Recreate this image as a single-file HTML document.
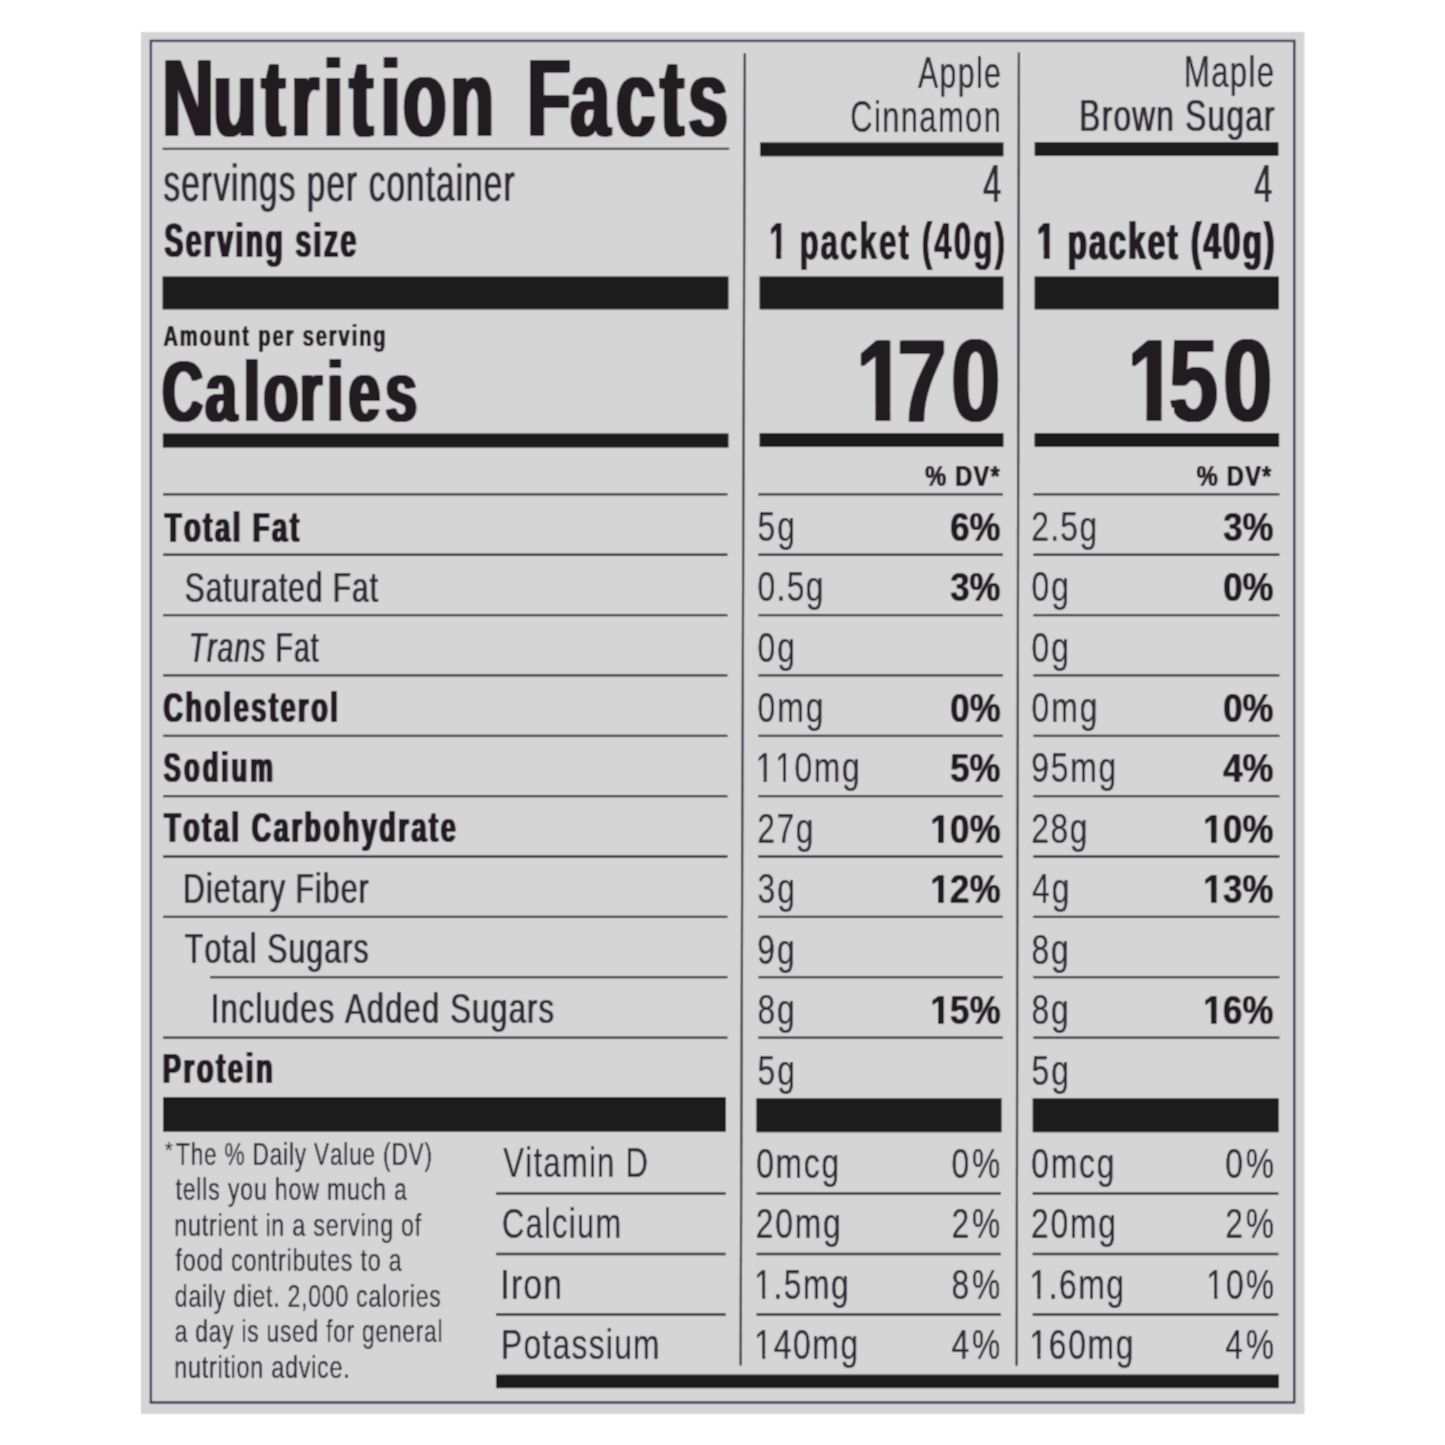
<!DOCTYPE html>
<html><head><meta charset="utf-8"><title>Nutrition Facts</title>
<style>
html,body{margin:0;padding:0;background:#ffffff;width:1445px;height:1445px;overflow:hidden}
svg{display:block}
text{font-family:"Liberation Sans",Arial,sans-serif;font-kerning:none}
.r{font-weight:400;font-style:normal}
.b{font-weight:700;font-style:normal}
.i{font-weight:400;font-style:italic}
</style></head><body>
<svg width="1445" height="1445" viewBox="0 0 1445 1445">
<defs><filter id="e0" x="-5%" y="-10%" width="115%" height="120%"><feOffset in="SourceGraphic" dx="1.240" dy="0" result="o0"/><feOffset in="SourceGraphic" dx="2.480" dy="0" result="o1"/><feOffset in="SourceGraphic" dx="3.720" dy="0" result="o2"/><feOffset in="SourceGraphic" dx="4.960" dy="0" result="o3"/><feOffset in="SourceGraphic" dx="6.200" dy="0" result="o4"/><feMerge><feMergeNode in="SourceGraphic"/><feMergeNode in="o0"/><feMergeNode in="o1"/><feMergeNode in="o2"/><feMergeNode in="o3"/><feMergeNode in="o4"/></feMerge></filter><filter id="e1" x="-5%" y="-10%" width="115%" height="120%"><feOffset in="SourceGraphic" dx="0.920" dy="0" result="o0"/><feMerge><feMergeNode in="SourceGraphic"/><feMergeNode in="o0"/></feMerge></filter><filter id="e2" x="-5%" y="-10%" width="115%" height="120%"><feOffset in="SourceGraphic" dx="1.540" dy="0" result="o0"/><feOffset in="SourceGraphic" dx="3.080" dy="0" result="o1"/><feMerge><feMergeNode in="SourceGraphic"/><feMergeNode in="o0"/><feMergeNode in="o1"/></feMerge></filter><filter id="e3" x="-5%" y="-10%" width="115%" height="120%"><feOffset in="SourceGraphic" dx="0.720" dy="0" result="o0"/><feMerge><feMergeNode in="SourceGraphic"/><feMergeNode in="o0"/></feMerge></filter><filter id="e4" x="-5%" y="-10%" width="115%" height="120%"><feOffset in="SourceGraphic" dx="0.700" dy="0" result="o0"/><feMerge><feMergeNode in="SourceGraphic"/><feMergeNode in="o0"/></feMerge></filter><filter id="e5" x="-5%" y="-10%" width="115%" height="120%"><feOffset in="SourceGraphic" dx="0.690" dy="0" result="o0"/><feMerge><feMergeNode in="SourceGraphic"/><feMergeNode in="o0"/></feMerge></filter><filter id="e6" x="-5%" y="-10%" width="115%" height="120%"><feOffset in="SourceGraphic" dx="1.000" dy="0" result="o0"/><feMerge><feMergeNode in="SourceGraphic"/><feMergeNode in="o0"/></feMerge></filter><filter id="e7" x="-5%" y="-10%" width="115%" height="120%"><feOffset in="SourceGraphic" dx="1.250" dy="0" result="o0"/><feOffset in="SourceGraphic" dx="2.500" dy="0" result="o1"/><feMerge><feMergeNode in="SourceGraphic"/><feMergeNode in="o0"/><feMergeNode in="o1"/></feMerge></filter><filter id="e8" x="-5%" y="-10%" width="115%" height="120%"><feOffset in="SourceGraphic" dx="1.245" dy="0" result="o0"/><feOffset in="SourceGraphic" dx="2.490" dy="0" result="o1"/><feMerge><feMergeNode in="SourceGraphic"/><feMergeNode in="o0"/><feMergeNode in="o1"/></feMerge></filter><filter id="e9" x="-5%" y="-10%" width="115%" height="120%"><feOffset in="SourceGraphic" dx="1.480" dy="0" result="o0"/><feMerge><feMergeNode in="SourceGraphic"/><feMergeNode in="o0"/></feMerge></filter><filter id="e10" x="-5%" y="-10%" width="115%" height="120%"><feOffset in="SourceGraphic" dx="1.212" dy="0" result="o0"/><feOffset in="SourceGraphic" dx="2.424" dy="0" result="o1"/><feOffset in="SourceGraphic" dx="3.636" dy="0" result="o2"/><feOffset in="SourceGraphic" dx="4.848" dy="0" result="o3"/><feOffset in="SourceGraphic" dx="6.060" dy="0" result="o4"/><feMerge><feMergeNode in="SourceGraphic"/><feMergeNode in="o0"/><feMergeNode in="o1"/><feMergeNode in="o2"/><feMergeNode in="o3"/><feMergeNode in="o4"/></feMerge></filter><filter id="e11" x="-5%" y="-10%" width="115%" height="120%"><feOffset in="SourceGraphic" dx="1.317" dy="0" result="o0"/><feOffset in="SourceGraphic" dx="2.633" dy="0" result="o1"/><feOffset in="SourceGraphic" dx="3.950" dy="0" result="o2"/><feMerge><feMergeNode in="SourceGraphic"/><feMergeNode in="o0"/><feMergeNode in="o1"/><feMergeNode in="o2"/></feMerge></filter><filter id="e12" x="-5%" y="-10%" width="115%" height="120%"><feOffset in="SourceGraphic" dx="1.270" dy="0" result="o0"/><feMerge><feMergeNode in="SourceGraphic"/><feMergeNode in="o0"/></feMerge></filter><filter id="e13" x="-5%" y="-10%" width="115%" height="120%"><feOffset in="SourceGraphic" dx="1.410" dy="0" result="o0"/><feOffset in="SourceGraphic" dx="2.820" dy="0" result="o1"/><feMerge><feMergeNode in="SourceGraphic"/><feMergeNode in="o0"/><feMergeNode in="o1"/></feMerge></filter><filter id="e14" x="-5%" y="-10%" width="115%" height="120%"><feOffset in="SourceGraphic" dx="0.660" dy="0" result="o0"/><feMerge><feMergeNode in="SourceGraphic"/><feMergeNode in="o0"/></feMerge></filter><filter id="e15" x="-5%" y="-10%" width="115%" height="120%"><feOffset in="SourceGraphic" dx="1.790" dy="0" result="o0"/><feMerge><feMergeNode in="SourceGraphic"/><feMergeNode in="o0"/></feMerge></filter><filter id="e16" x="-5%" y="-10%" width="115%" height="120%"><feOffset in="SourceGraphic" dx="0.860" dy="0" result="o0"/><feMerge><feMergeNode in="SourceGraphic"/><feMergeNode in="o0"/></feMerge></filter><filter id="e17" x="-5%" y="-10%" width="115%" height="120%"><feOffset in="SourceGraphic" dx="0.900" dy="0" result="o0"/><feMerge><feMergeNode in="SourceGraphic"/><feMergeNode in="o0"/></feMerge></filter><filter id="e18" x="-5%" y="-10%" width="115%" height="120%"><feOffset in="SourceGraphic" dx="1.435" dy="0" result="o0"/><feOffset in="SourceGraphic" dx="2.870" dy="0" result="o1"/><feMerge><feMergeNode in="SourceGraphic"/><feMergeNode in="o0"/><feMergeNode in="o1"/></feMerge></filter><filter id="e19" x="-5%" y="-10%" width="115%" height="120%"><feOffset in="SourceGraphic" dx="1.515" dy="0" result="o0"/><feOffset in="SourceGraphic" dx="3.030" dy="0" result="o1"/><feMerge><feMergeNode in="SourceGraphic"/><feMergeNode in="o0"/><feMergeNode in="o1"/></feMerge></filter><filter id="e20" x="-5%" y="-10%" width="115%" height="120%"><feOffset in="SourceGraphic" dx="1.440" dy="0" result="o0"/><feOffset in="SourceGraphic" dx="2.880" dy="0" result="o1"/><feMerge><feMergeNode in="SourceGraphic"/><feMergeNode in="o0"/><feMergeNode in="o1"/></feMerge></filter><filter id="e21" x="-5%" y="-10%" width="115%" height="120%"><feOffset in="SourceGraphic" dx="0.840" dy="0" result="o0"/><feMerge><feMergeNode in="SourceGraphic"/><feMergeNode in="o0"/></feMerge></filter><filter id="e22" x="-5%" y="-10%" width="115%" height="120%"><feOffset in="SourceGraphic" dx="0.820" dy="0" result="o0"/><feMerge><feMergeNode in="SourceGraphic"/><feMergeNode in="o0"/></feMerge></filter><filter id="e23" x="-5%" y="-10%" width="115%" height="120%"><feOffset in="SourceGraphic" dx="0.550" dy="0" result="o0"/><feMerge><feMergeNode in="SourceGraphic"/><feMergeNode in="o0"/></feMerge></filter><filter id="e24" x="-5%" y="-10%" width="115%" height="120%"><feOffset in="SourceGraphic" dx="0.540" dy="0" result="o0"/><feMerge><feMergeNode in="SourceGraphic"/><feMergeNode in="o0"/></feMerge></filter><filter id="e25" x="-5%" y="-10%" width="115%" height="120%"><feOffset in="SourceGraphic" dx="0.530" dy="0" result="o0"/><feMerge><feMergeNode in="SourceGraphic"/><feMergeNode in="o0"/></feMerge></filter><filter id="e26" x="-5%" y="-10%" width="115%" height="120%"><feOffset in="SourceGraphic" dx="0.560" dy="0" result="o0"/><feMerge><feMergeNode in="SourceGraphic"/><feMergeNode in="o0"/></feMerge></filter><filter id="e27" x="-5%" y="-10%" width="115%" height="120%"><feOffset in="SourceGraphic" dx="0.510" dy="0" result="o0"/><feMerge><feMergeNode in="SourceGraphic"/><feMergeNode in="o0"/></feMerge></filter><clipPath id="c0" clipPathUnits="userSpaceOnUse"><path clip-rule="evenodd" d="M-5000 -5000H5000V5000H-5000ZM1283.42 251.72H1294.23V261.60H1283.42ZM1301.32 251.72H1311.47V261.60H1301.32Z"/></clipPath><clipPath id="c1" clipPathUnits="userSpaceOnUse"><path clip-rule="evenodd" d="M-5000 -5000H5000V5000H-5000ZM1719.61 251.72H1730.42V261.60H1719.61ZM1737.52 251.72H1747.67V261.60H1737.52Z"/></clipPath><clipPath id="c2" clipPathUnits="userSpaceOnUse"><path clip-rule="evenodd" d="M-5000 -5000H5000V5000H-5000ZM1129.98 407.56H1151.75V424.00H1129.98ZM1167.66 407.56H1187.96V424.00H1167.66Z"/></clipPath><clipPath id="c3" clipPathUnits="userSpaceOnUse"><path clip-rule="evenodd" d="M-5000 -5000H5000V5000H-5000ZM1486.75 408.06H1508.52V424.50H1486.75ZM1524.44 408.06H1544.73V424.50H1524.44Z"/></clipPath><clipPath id="c4" clipPathUnits="userSpaceOnUse"><path clip-rule="evenodd" d="M-5000 -5000H5000V5000H-5000ZM1004.45 777.72H1013.87V785.48H1004.45ZM1017.61 777.72H1026.69V785.48H1017.61ZM1030.12 777.72H1039.53V785.48H1030.12ZM1043.27 777.72H1052.36V785.48H1043.27Z"/></clipPath><clipPath id="c5" clipPathUnits="userSpaceOnUse"><path clip-rule="evenodd" d="M-5000 -5000H5000V5000H-5000ZM1111.50 837.06H1120.58V845.90H1111.50ZM1126.27 837.06H1134.81V845.90H1126.27Z"/></clipPath><clipPath id="c6" clipPathUnits="userSpaceOnUse"><path clip-rule="evenodd" d="M-5000 -5000H5000V5000H-5000ZM1437.51 837.06H1446.58V845.90H1437.51ZM1452.27 837.06H1460.82V845.90H1452.27Z"/></clipPath><clipPath id="c7" clipPathUnits="userSpaceOnUse"><path clip-rule="evenodd" d="M-5000 -5000H5000V5000H-5000ZM1111.50 897.48H1120.58V906.32H1111.50ZM1126.27 897.48H1134.81V906.32H1126.27Z"/></clipPath><clipPath id="c8" clipPathUnits="userSpaceOnUse"><path clip-rule="evenodd" d="M-5000 -5000H5000V5000H-5000ZM1437.51 897.48H1446.58V906.32H1437.51ZM1452.27 897.48H1460.82V906.32H1452.27Z"/></clipPath><clipPath id="c9" clipPathUnits="userSpaceOnUse"><path clip-rule="evenodd" d="M-5000 -5000H5000V5000H-5000ZM1111.50 1018.32H1120.58V1027.16H1111.50ZM1126.27 1018.32H1134.81V1027.16H1126.27Z"/></clipPath><clipPath id="c10" clipPathUnits="userSpaceOnUse"><path clip-rule="evenodd" d="M-5000 -5000H5000V5000H-5000ZM1437.51 1018.32H1446.58V1027.16H1437.51ZM1452.27 1018.32H1460.82V1027.16H1452.27Z"/></clipPath><clipPath id="c11" clipPathUnits="userSpaceOnUse"><path clip-rule="evenodd" d="M-5000 -5000H5000V5000H-5000ZM1002.60 1294.14H1012.01V1301.90H1002.60ZM1015.75 1294.14H1024.83V1301.90H1015.75Z"/></clipPath><clipPath id="c12" clipPathUnits="userSpaceOnUse"><path clip-rule="evenodd" d="M-5000 -5000H5000V5000H-5000ZM1367.92 1294.14H1377.34V1301.90H1367.92ZM1381.08 1294.14H1390.16V1301.90H1381.08Z"/></clipPath><clipPath id="c13" clipPathUnits="userSpaceOnUse"><path clip-rule="evenodd" d="M-5000 -5000H5000V5000H-5000ZM1602.68 1294.14H1612.09V1301.90H1602.68ZM1615.83 1294.14H1624.91V1301.90H1615.83Z"/></clipPath><clipPath id="c14" clipPathUnits="userSpaceOnUse"><path clip-rule="evenodd" d="M-5000 -5000H5000V5000H-5000ZM1002.60 1354.34H1012.01V1362.10H1002.60ZM1015.75 1354.34H1024.83V1362.10H1015.75Z"/></clipPath><clipPath id="c15" clipPathUnits="userSpaceOnUse"><path clip-rule="evenodd" d="M-5000 -5000H5000V5000H-5000ZM1367.92 1354.34H1377.34V1362.10H1367.92ZM1381.08 1354.34H1390.16V1362.10H1381.08Z"/></clipPath><filter id="soft" x="0" y="0" width="1445" height="1445" filterUnits="userSpaceOnUse"><feConvolveMatrix order="3" kernelMatrix="1 2 1 2 4 2 1 2 1" divisor="16" edgeMode="duplicate"/></filter></defs>
<g filter="url(#soft)">
<rect x="141.00" y="32.00" width="1163.50" height="1382.00" fill="#d5d5d6"/>
<rect x="150.9" y="40.9" width="1143.4" height="1361.6" fill="none" stroke="#2a2c48" stroke-width="2.3"/>
<g transform="scale(0.6450,1)" filter="url(#e0)"><text class="b" x="248.99 327.47 402.85 448.52 498.49 538.89 587.02 621.75 695.18 762.37 814.43 881.56 952.13 1020.44 1064.00" y="136.30" font-size="110.00" fill="#211e20">Nutrition Facts</text></g>
<rect x="162.50" y="147.80" width="566.70" height="2.00" fill="#2c2b33"/>
<g transform="scale(0.6517,1)" filter="url(#e1)"><text class="r" x="250.24" y="201.00" font-size="51.00" textLength="538.43" lengthAdjust="spacing" fill="#2e2c33">servings per container</text></g>
<g transform="scale(0.5847,1)" filter="url(#e2)"><text class="b" x="279.44" y="257.30" font-size="48.30" textLength="328.00" lengthAdjust="spacing" fill="#211e20">Serving size</text></g>
<g transform="scale(0.6916,1)" filter="url(#e3)"><text class="r" x="1327.50" y="87.60" font-size="43.80" textLength="119.58" lengthAdjust="spacing" fill="#2e2c33">Apple</text></g>
<g transform="scale(0.7103,1)" filter="url(#e4)"><text class="r" x="1196.94" y="131.80" font-size="43.50" textLength="212.12" lengthAdjust="spacing" fill="#2e2c33">Cinnamon</text></g>
<g transform="scale(0.7096,1)" filter="url(#e4)"><text class="r" x="1668.42" y="87.30" font-size="43.80" textLength="127.15" lengthAdjust="spacing" fill="#2e2c33">Maple</text></g>
<g transform="scale(0.7247,1)" filter="url(#e5)"><text class="r" x="1488.70" y="131.50" font-size="43.50" textLength="269.38" lengthAdjust="spacing" fill="#2e2c33">Brown Sugar</text></g>
<rect x="760.00" y="142.40" width="243.50" height="14.00" fill="#1c1b1e"/>
<rect x="1034.60" y="142.10" width="243.90" height="13.90" fill="#1c1b1e"/>
<g transform="scale(0.6009,1)" filter="url(#e6)"><text class="r" x="1635.45" y="202.00" font-size="53.50" textLength="28.76" lengthAdjust="spacing" fill="#2e2c33">4</text></g>
<g transform="scale(0.6009,1)" filter="url(#e6)"><text class="r" x="2086.26" y="201.70" font-size="53.50" textLength="28.76" lengthAdjust="spacing" fill="#2e2c33">4</text></g>
<g transform="scale(0.5995,1)" filter="url(#e7)"><text class="b" x="1282.16" y="258.60" font-size="51.70" textLength="392.92" lengthAdjust="spacing" fill="#211e20" clip-path="url(#c0)">1 packet (40g)</text></g>
<g transform="scale(0.6031,1)" filter="url(#e8)"><text class="b" x="1718.35" y="258.60" font-size="51.70" textLength="392.93" lengthAdjust="spacing" fill="#211e20" clip-path="url(#c1)">1 packet (40g)</text></g>
<rect x="162.50" y="276.40" width="566.00" height="33.10" fill="#1c1b1e"/>
<rect x="759.50" y="276.40" width="244.00" height="33.10" fill="#1c1b1e"/>
<rect x="1034.50" y="276.40" width="244.50" height="33.10" fill="#1c1b1e"/>
<g transform="scale(0.6751,1)" filter="url(#e9)"><text class="b" x="241.29" y="345.80" font-size="29.80" textLength="329.19" lengthAdjust="spacing" fill="#211e20">Amount per serving</text></g>
<g transform="scale(0.6600,1)" filter="url(#e10)"><text class="b" x="242.78 308.24 366.68 396.67 451.62 493.34 525.54 581.23" y="421.50" font-size="85.30" fill="#211e20">Calories</text></g>
<g transform="scale(0.7600,1)" filter="url(#e11)"><text class="b" x="1124.67 1179.05 1249.54" y="421.00" font-size="116.00" fill="#211e20" clip-path="url(#c2)">170</text></g>
<g transform="scale(0.7600,1)" filter="url(#e11)"><text class="b" x="1481.45 1536.06 1607.50" y="421.50" font-size="116.00" fill="#211e20" clip-path="url(#c3)">150</text></g>
<rect x="162.80" y="433.40" width="565.70" height="14.30" fill="#1c1b1e"/>
<rect x="759.50" y="433.00" width="244.00" height="14.00" fill="#1c1b1e"/>
<rect x="1034.50" y="433.00" width="244.70" height="14.00" fill="#1c1b1e"/>
<g transform="scale(0.7847,1)" filter="url(#e12)"><text class="b" x="1178.47" y="485.90" font-size="30.00" textLength="94.70" lengthAdjust="spacing" fill="#211e20">% DV*</text></g>
<g transform="scale(0.7857,1)" filter="url(#e12)"><text class="b" x="1522.69" y="486.00" font-size="30.00" textLength="94.70" lengthAdjust="spacing" fill="#211e20">% DV*</text></g>
<line x1="163.00" y1="494.40" x2="727.50" y2="494.40" stroke="#2c2b33" stroke-width="2.3"/>
<line x1="758.30" y1="494.40" x2="1003.00" y2="494.40" stroke="#2c2b33" stroke-width="2.3"/>
<line x1="1033.30" y1="494.40" x2="1279.50" y2="494.40" stroke="#2c2b33" stroke-width="2.3"/>
<line x1="163.00" y1="554.75" x2="727.50" y2="554.75" stroke="#2c2b33" stroke-width="2.3"/>
<line x1="758.30" y1="554.75" x2="1003.00" y2="554.75" stroke="#2c2b33" stroke-width="2.3"/>
<line x1="1033.30" y1="554.75" x2="1279.50" y2="554.75" stroke="#2c2b33" stroke-width="2.3"/>
<line x1="163.00" y1="615.10" x2="727.50" y2="615.10" stroke="#2c2b33" stroke-width="2.3"/>
<line x1="758.30" y1="615.10" x2="1003.00" y2="615.10" stroke="#2c2b33" stroke-width="2.3"/>
<line x1="1033.30" y1="615.10" x2="1279.50" y2="615.10" stroke="#2c2b33" stroke-width="2.3"/>
<line x1="163.00" y1="675.45" x2="727.50" y2="675.45" stroke="#2c2b33" stroke-width="2.3"/>
<line x1="758.30" y1="675.45" x2="1003.00" y2="675.45" stroke="#2c2b33" stroke-width="2.3"/>
<line x1="1033.30" y1="675.45" x2="1279.50" y2="675.45" stroke="#2c2b33" stroke-width="2.3"/>
<line x1="163.00" y1="735.80" x2="727.50" y2="735.80" stroke="#2c2b33" stroke-width="2.3"/>
<line x1="758.30" y1="735.80" x2="1003.00" y2="735.80" stroke="#2c2b33" stroke-width="2.3"/>
<line x1="1033.30" y1="735.80" x2="1279.50" y2="735.80" stroke="#2c2b33" stroke-width="2.3"/>
<line x1="163.00" y1="796.15" x2="727.50" y2="796.15" stroke="#2c2b33" stroke-width="2.3"/>
<line x1="758.30" y1="796.15" x2="1003.00" y2="796.15" stroke="#2c2b33" stroke-width="2.3"/>
<line x1="1033.30" y1="796.15" x2="1279.50" y2="796.15" stroke="#2c2b33" stroke-width="2.3"/>
<line x1="163.00" y1="856.50" x2="727.50" y2="856.50" stroke="#2c2b33" stroke-width="2.3"/>
<line x1="758.30" y1="856.50" x2="1003.00" y2="856.50" stroke="#2c2b33" stroke-width="2.3"/>
<line x1="1033.30" y1="856.50" x2="1279.50" y2="856.50" stroke="#2c2b33" stroke-width="2.3"/>
<line x1="163.00" y1="916.85" x2="727.50" y2="916.85" stroke="#2c2b33" stroke-width="2.3"/>
<line x1="758.30" y1="916.85" x2="1003.00" y2="916.85" stroke="#2c2b33" stroke-width="2.3"/>
<line x1="1033.30" y1="916.85" x2="1279.50" y2="916.85" stroke="#2c2b33" stroke-width="2.3"/>
<line x1="210.00" y1="977.20" x2="727.50" y2="977.20" stroke="#2c2b33" stroke-width="2.3"/>
<line x1="758.30" y1="977.20" x2="1003.00" y2="977.20" stroke="#2c2b33" stroke-width="2.3"/>
<line x1="1033.30" y1="977.20" x2="1279.50" y2="977.20" stroke="#2c2b33" stroke-width="2.3"/>
<line x1="163.00" y1="1037.55" x2="727.50" y2="1037.55" stroke="#2c2b33" stroke-width="2.3"/>
<line x1="758.30" y1="1037.55" x2="1003.00" y2="1037.55" stroke="#2c2b33" stroke-width="2.3"/>
<line x1="1033.30" y1="1037.55" x2="1279.50" y2="1037.55" stroke="#2c2b33" stroke-width="2.3"/>
<g transform="scale(0.6384,1)" filter="url(#e13)"><text class="b" x="256.56" y="542.00" font-size="43.00" textLength="210.27" lengthAdjust="spacing" fill="#211e20">Total Fat</text></g>
<g transform="scale(0.7533,1)" filter="url(#e14)"><text class="r" x="1005.61" y="540.80" font-size="42.30" textLength="49.60" lengthAdjust="spacing" fill="#2e2c33">5g</text></g>
<g transform="scale(0.7533,1)" filter="url(#e14)"><text class="r" x="1368.91" y="540.80" font-size="42.30" textLength="87.50" lengthAdjust="spacing" fill="#2e2c33">2.5g</text></g>
<g transform="scale(0.8371,1)" filter="url(#e15)"><text class="b" x="1134.64" y="540.80" font-size="41.50" textLength="59.96" lengthAdjust="spacing" fill="#211e20">6%</text></g>
<g transform="scale(0.8371,1)" filter="url(#e15)"><text class="b" x="1460.63" y="540.80" font-size="41.50" textLength="59.98" lengthAdjust="spacing" fill="#211e20">3%</text></g>
<g transform="scale(0.7002,1)" filter="url(#e16)"><text class="r" x="263.27" y="602.10" font-size="42.50" textLength="275.87" lengthAdjust="spacing" fill="#2e2c33">Saturated Fat</text></g>
<g transform="scale(0.7533,1)" filter="url(#e14)"><text class="r" x="1005.65" y="601.22" font-size="42.30" textLength="87.53" lengthAdjust="spacing" fill="#2e2c33">0.5g</text></g>
<g transform="scale(0.7533,1)" filter="url(#e14)"><text class="r" x="1369.38" y="601.22" font-size="42.30" textLength="49.60" lengthAdjust="spacing" fill="#2e2c33">0g</text></g>
<g transform="scale(0.8371,1)" filter="url(#e15)"><text class="b" x="1134.62" y="601.22" font-size="41.50" textLength="59.98" lengthAdjust="spacing" fill="#211e20">3%</text></g>
<g transform="scale(0.8371,1)" filter="url(#e15)"><text class="b" x="1460.65" y="601.22" font-size="41.50" textLength="59.96" lengthAdjust="spacing" fill="#211e20">0%</text></g>
<g transform="scale(0.6693,1)" filter="url(#e17)"><text class="i" x="281.11" y="662.20" font-size="42.50" textLength="194.33" lengthAdjust="spacing" fill="#2e2c33"><tspan class="i">Trans</tspan><tspan class="r"> Fat</tspan></text></g>
<g transform="scale(0.7533,1)" filter="url(#e14)"><text class="r" x="1005.65" y="661.64" font-size="42.30" textLength="49.60" lengthAdjust="spacing" fill="#2e2c33">0g</text></g>
<g transform="scale(0.7533,1)" filter="url(#e14)"><text class="r" x="1369.38" y="661.64" font-size="42.30" textLength="49.60" lengthAdjust="spacing" fill="#2e2c33">0g</text></g>
<g transform="scale(0.6275,1)" filter="url(#e18)"><text class="b" x="258.81" y="722.30" font-size="43.00" textLength="277.81" lengthAdjust="spacing" fill="#211e20">Cholesterol</text></g>
<g transform="scale(0.7533,1)" filter="url(#e14)"><text class="r" x="1005.65" y="722.06" font-size="42.30" textLength="87.49" lengthAdjust="spacing" fill="#2e2c33">0mg</text></g>
<g transform="scale(0.7533,1)" filter="url(#e14)"><text class="r" x="1369.38" y="722.06" font-size="42.30" textLength="87.49" lengthAdjust="spacing" fill="#2e2c33">0mg</text></g>
<g transform="scale(0.8371,1)" filter="url(#e15)"><text class="b" x="1134.65" y="722.06" font-size="41.50" textLength="59.96" lengthAdjust="spacing" fill="#211e20">0%</text></g>
<g transform="scale(0.8371,1)" filter="url(#e15)"><text class="b" x="1460.65" y="722.06" font-size="41.50" textLength="59.96" lengthAdjust="spacing" fill="#211e20">0%</text></g>
<g transform="scale(0.5939,1)" filter="url(#e19)"><text class="b" x="274.08" y="782.40" font-size="43.00" textLength="183.92" lengthAdjust="spacing" fill="#211e20">Sodium</text></g>
<g transform="scale(0.7533,1)" filter="url(#e14)"><text class="r" x="1003.23" y="782.48" font-size="42.30" textLength="137.90" lengthAdjust="spacing" fill="#2e2c33" clip-path="url(#c4)">110mg</text></g>
<g transform="scale(0.7533,1)" filter="url(#e14)"><text class="r" x="1369.05" y="782.48" font-size="42.30" textLength="112.76" lengthAdjust="spacing" fill="#2e2c33">95mg</text></g>
<g transform="scale(0.8371,1)" filter="url(#e15)"><text class="b" x="1134.63" y="782.48" font-size="41.50" textLength="59.97" lengthAdjust="spacing" fill="#211e20">5%</text></g>
<g transform="scale(0.8371,1)" filter="url(#e15)"><text class="b" x="1460.62" y="782.48" font-size="41.50" textLength="59.99" lengthAdjust="spacing" fill="#211e20">4%</text></g>
<g transform="scale(0.6253,1)" filter="url(#e20)"><text class="b" x="261.00" y="842.50" font-size="43.00" textLength="466.06" lengthAdjust="spacing" fill="#211e20">Total Carbohydrate</text></g>
<g transform="scale(0.7533,1)" filter="url(#e14)"><text class="r" x="1005.17" y="842.90" font-size="42.30" textLength="74.86" lengthAdjust="spacing" fill="#2e2c33">27g</text></g>
<g transform="scale(0.7533,1)" filter="url(#e14)"><text class="r" x="1368.91" y="842.90" font-size="42.30" textLength="74.86" lengthAdjust="spacing" fill="#2e2c33">28g</text></g>
<g transform="scale(0.8371,1)" filter="url(#e15)"><text class="b" x="1110.89" y="842.90" font-size="41.50" textLength="83.72" lengthAdjust="spacing" fill="#211e20" clip-path="url(#c5)">10%</text></g>
<g transform="scale(0.8371,1)" filter="url(#e15)"><text class="b" x="1436.89" y="842.90" font-size="41.50" textLength="83.72" lengthAdjust="spacing" fill="#211e20" clip-path="url(#c6)">10%</text></g>
<g transform="scale(0.7131,1)" filter="url(#e21)"><text class="r" x="255.95" y="902.60" font-size="42.50" textLength="260.41" lengthAdjust="spacing" fill="#2e2c33">Dietary Fiber</text></g>
<g transform="scale(0.7533,1)" filter="url(#e14)"><text class="r" x="1005.69" y="903.32" font-size="42.30" textLength="49.60" lengthAdjust="spacing" fill="#2e2c33">3g</text></g>
<g transform="scale(0.7533,1)" filter="url(#e14)"><text class="r" x="1370.06" y="903.32" font-size="42.30" textLength="49.65" lengthAdjust="spacing" fill="#2e2c33">4g</text></g>
<g transform="scale(0.8371,1)" filter="url(#e15)"><text class="b" x="1110.89" y="903.32" font-size="41.50" textLength="83.72" lengthAdjust="spacing" fill="#211e20" clip-path="url(#c7)">12%</text></g>
<g transform="scale(0.8371,1)" filter="url(#e15)"><text class="b" x="1436.89" y="903.32" font-size="41.50" textLength="83.72" lengthAdjust="spacing" fill="#211e20" clip-path="url(#c8)">13%</text></g>
<g transform="scale(0.7118,1)" filter="url(#e21)"><text class="r" x="258.97" y="962.70" font-size="42.50" textLength="258.06" lengthAdjust="spacing" fill="#2e2c33">Total Sugars</text></g>
<g transform="scale(0.7533,1)" filter="url(#e14)"><text class="r" x="1005.32" y="963.74" font-size="42.30" textLength="49.57" lengthAdjust="spacing" fill="#2e2c33">9g</text></g>
<g transform="scale(0.7533,1)" filter="url(#e14)"><text class="r" x="1369.20" y="963.74" font-size="42.30" textLength="49.58" lengthAdjust="spacing" fill="#2e2c33">8g</text></g>
<g transform="scale(0.7286,1)" filter="url(#e22)"><text class="r" x="288.44" y="1022.80" font-size="42.50" textLength="471.31" lengthAdjust="spacing" fill="#2e2c33">Includes Added Sugars</text></g>
<g transform="scale(0.7533,1)" filter="url(#e14)"><text class="r" x="1005.46" y="1024.16" font-size="42.30" textLength="49.58" lengthAdjust="spacing" fill="#2e2c33">8g</text></g>
<g transform="scale(0.7533,1)" filter="url(#e14)"><text class="r" x="1369.20" y="1024.16" font-size="42.30" textLength="49.58" lengthAdjust="spacing" fill="#2e2c33">8g</text></g>
<g transform="scale(0.8371,1)" filter="url(#e15)"><text class="b" x="1110.89" y="1024.16" font-size="41.50" textLength="83.72" lengthAdjust="spacing" fill="#211e20" clip-path="url(#c9)">15%</text></g>
<g transform="scale(0.8371,1)" filter="url(#e15)"><text class="b" x="1436.89" y="1024.16" font-size="41.50" textLength="83.72" lengthAdjust="spacing" fill="#211e20" clip-path="url(#c10)">16%</text></g>
<g transform="scale(0.6380,1)" filter="url(#e13)"><text class="b" x="253.38" y="1082.90" font-size="43.00" textLength="172.47" lengthAdjust="spacing" fill="#211e20">Protein</text></g>
<g transform="scale(0.7533,1)" filter="url(#e14)"><text class="r" x="1005.61" y="1084.58" font-size="42.30" textLength="49.60" lengthAdjust="spacing" fill="#2e2c33">5g</text></g>
<g transform="scale(0.7533,1)" filter="url(#e14)"><text class="r" x="1369.34" y="1084.58" font-size="42.30" textLength="49.60" lengthAdjust="spacing" fill="#2e2c33">5g</text></g>
<rect x="163.00" y="1097.00" width="563.00" height="34.80" fill="#1c1b1e"/>
<rect x="756.30" y="1098.20" width="245.30" height="34.10" fill="#1c1b1e"/>
<rect x="1032.60" y="1098.20" width="246.20" height="34.10" fill="#1c1b1e"/>
<g transform="scale(0.9366,1)"><text class="r" x="175.58" y="1158.90" font-size="23.60" textLength="9.18" lengthAdjust="spacing" fill="#2e2c33">*</text></g>
<g transform="scale(0.7286,1)" filter="url(#e23)"><text class="r" x="241.68" y="1164.70" font-size="31.00" textLength="351.22" lengthAdjust="spacing" fill="#2e2c33">The % Daily Value (DV)</text></g>
<g transform="scale(0.7446,1)" filter="url(#e24)"><text class="r" x="235.62" y="1200.30" font-size="31.00" textLength="310.69" lengthAdjust="spacing" fill="#2e2c33">tells you how much a</text></g>
<g transform="scale(0.7551,1)" filter="url(#e25)"><text class="r" x="230.77" y="1235.90" font-size="31.00" textLength="327.28" lengthAdjust="spacing" fill="#2e2c33">nutrient in a serving of</text></g>
<g transform="scale(0.7501,1)" filter="url(#e25)"><text class="r" x="233.94" y="1271.30" font-size="31.00" textLength="301.48" lengthAdjust="spacing" fill="#2e2c33">food contributes to a</text></g>
<g transform="scale(0.7453,1)" filter="url(#e24)"><text class="r" x="234.57" y="1307.00" font-size="31.00" textLength="356.90" lengthAdjust="spacing" fill="#2e2c33">daily diet. 2,000 calories</text></g>
<g transform="scale(0.7352,1)" filter="url(#e24)"><text class="r" x="237.80" y="1342.40" font-size="31.00" textLength="364.24" lengthAdjust="spacing" fill="#2e2c33">a day is used for general</text></g>
<g transform="scale(0.7546,1)" filter="url(#e25)"><text class="r" x="230.92" y="1378.10" font-size="31.00" textLength="232.57" lengthAdjust="spacing" fill="#2e2c33">nutrition advice.</text></g>
<g transform="scale(0.7192,1)" filter="url(#e26)"><text class="r" x="699.85" y="1177.40" font-size="43.30" textLength="201.08" lengthAdjust="spacing" fill="#2e2c33">Vitamin D</text></g>
<g transform="scale(0.7533,1)" filter="url(#e14)"><text class="r" x="1003.79" y="1177.70" font-size="42.30" textLength="110.23" lengthAdjust="spacing" fill="#2e2c33">0mcg</text></g>
<g transform="scale(0.7533,1)" filter="url(#e14)"><text class="r" x="1369.12" y="1177.70" font-size="42.30" textLength="110.23" lengthAdjust="spacing" fill="#2e2c33">0mcg</text></g>
<g transform="scale(0.7533,1)" filter="url(#e14)"><text class="r" x="1263.10" y="1177.70" font-size="42.30" textLength="64.84" lengthAdjust="spacing" fill="#2e2c33">0%</text></g>
<g transform="scale(0.7533,1)" filter="url(#e14)"><text class="r" x="1626.57" y="1177.70" font-size="42.30" textLength="64.84" lengthAdjust="spacing" fill="#2e2c33">0%</text></g>
<g transform="scale(0.7128,1)" filter="url(#e26)"><text class="r" x="704.13" y="1238.00" font-size="43.30" textLength="167.22" lengthAdjust="spacing" fill="#2e2c33">Calcium</text></g>
<g transform="scale(0.7533,1)" filter="url(#e14)"><text class="r" x="1003.32" y="1238.30" font-size="42.30" textLength="112.75" lengthAdjust="spacing" fill="#2e2c33">20mg</text></g>
<g transform="scale(0.7533,1)" filter="url(#e14)"><text class="r" x="1368.64" y="1238.30" font-size="42.30" textLength="112.75" lengthAdjust="spacing" fill="#2e2c33">20mg</text></g>
<g transform="scale(0.7533,1)" filter="url(#e14)"><text class="r" x="1263.14" y="1238.30" font-size="42.30" textLength="64.80" lengthAdjust="spacing" fill="#2e2c33">2%</text></g>
<g transform="scale(0.7533,1)" filter="url(#e14)"><text class="r" x="1626.60" y="1238.30" font-size="42.30" textLength="64.80" lengthAdjust="spacing" fill="#2e2c33">2%</text></g>
<g transform="scale(0.7804,1)" filter="url(#e27)"><text class="r" x="641.15" y="1298.60" font-size="43.30" textLength="79.20" lengthAdjust="spacing" fill="#2e2c33">Iron</text></g>
<g transform="scale(0.7533,1)" filter="url(#e14)"><text class="r" x="1001.37" y="1298.90" font-size="42.30" textLength="125.24" lengthAdjust="spacing" fill="#2e2c33" clip-path="url(#c11)">1.5mg</text></g>
<g transform="scale(0.7533,1)" filter="url(#e14)"><text class="r" x="1366.70" y="1298.90" font-size="42.30" textLength="125.24" lengthAdjust="spacing" fill="#2e2c33" clip-path="url(#c12)">1.6mg</text></g>
<g transform="scale(0.7533,1)" filter="url(#e14)"><text class="r" x="1263.12" y="1298.90" font-size="42.30" textLength="64.82" lengthAdjust="spacing" fill="#2e2c33">8%</text></g>
<g transform="scale(0.7533,1)" filter="url(#e14)"><text class="r" x="1601.45" y="1298.90" font-size="42.30" textLength="89.95" lengthAdjust="spacing" fill="#2e2c33" clip-path="url(#c13)">10%</text></g>
<g transform="scale(0.7336,1)" filter="url(#e23)"><text class="r" x="682.80" y="1358.80" font-size="43.30" textLength="216.33" lengthAdjust="spacing" fill="#2e2c33">Potassium</text></g>
<g transform="scale(0.7533,1)" filter="url(#e14)"><text class="r" x="1001.37" y="1359.10" font-size="42.30" textLength="137.90" lengthAdjust="spacing" fill="#2e2c33" clip-path="url(#c14)">140mg</text></g>
<g transform="scale(0.7533,1)" filter="url(#e14)"><text class="r" x="1366.70" y="1359.10" font-size="42.30" textLength="137.90" lengthAdjust="spacing" fill="#2e2c33" clip-path="url(#c15)">160mg</text></g>
<g transform="scale(0.7533,1)" filter="url(#e14)"><text class="r" x="1263.05" y="1359.10" font-size="42.30" textLength="64.89" lengthAdjust="spacing" fill="#2e2c33">4%</text></g>
<g transform="scale(0.7533,1)" filter="url(#e14)"><text class="r" x="1626.52" y="1359.10" font-size="42.30" textLength="64.89" lengthAdjust="spacing" fill="#2e2c33">4%</text></g>
<line x1="496.00" y1="1193.50" x2="725.70" y2="1193.50" stroke="#2c2b33" stroke-width="2.3"/>
<line x1="756.50" y1="1193.50" x2="1001.00" y2="1193.50" stroke="#2c2b33" stroke-width="2.3"/>
<line x1="1032.60" y1="1193.50" x2="1278.50" y2="1193.50" stroke="#2c2b33" stroke-width="2.3"/>
<line x1="496.00" y1="1254.00" x2="725.70" y2="1254.00" stroke="#2c2b33" stroke-width="2.3"/>
<line x1="756.50" y1="1254.00" x2="1001.00" y2="1254.00" stroke="#2c2b33" stroke-width="2.3"/>
<line x1="1032.60" y1="1254.00" x2="1278.50" y2="1254.00" stroke="#2c2b33" stroke-width="2.3"/>
<line x1="496.00" y1="1314.50" x2="725.70" y2="1314.50" stroke="#2c2b33" stroke-width="2.3"/>
<line x1="756.50" y1="1314.50" x2="1001.00" y2="1314.50" stroke="#2c2b33" stroke-width="2.3"/>
<line x1="1032.60" y1="1314.50" x2="1278.50" y2="1314.50" stroke="#2c2b33" stroke-width="2.3"/>
<rect x="496.00" y="1374.50" width="783.00" height="13.70" fill="#1c1b1e"/>
<line x1="744.80" y1="53.30" x2="740.60" y2="1365.40" stroke="#2c2b33" stroke-width="2.2"/>
<line x1="1018.90" y1="52.50" x2="1016.60" y2="1365.70" stroke="#2c2b33" stroke-width="2.2"/>
</g>
</svg>
</body></html>
